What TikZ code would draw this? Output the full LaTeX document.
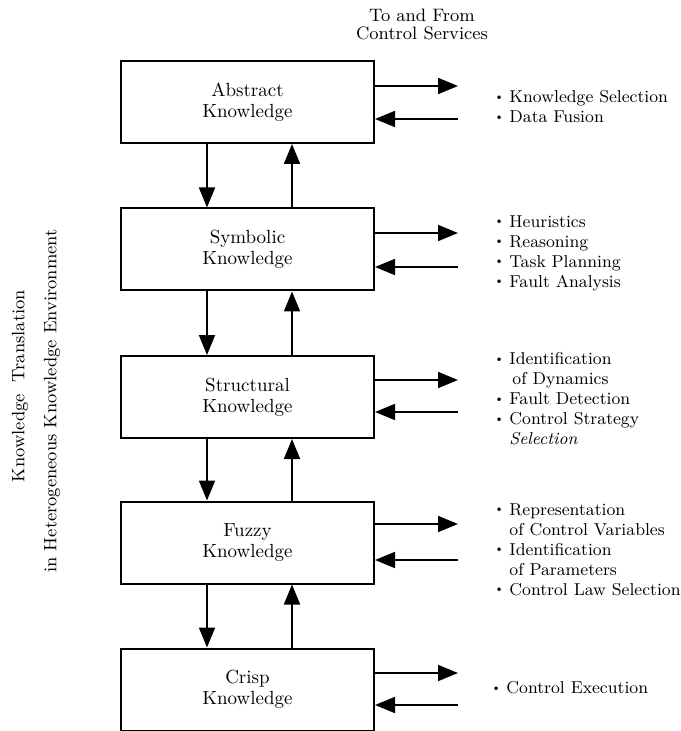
\documentclass[tikz,border=0pt]{standalone}
\usepackage{graphicx}
\usetikzlibrary{arrows.meta,calc}

% small bullet followed by a fixed gap before the item text
\newcommand{\dotmark}{\makebox[7.5pt][l]{\raisebox{0.3ex}{\scalebox{0.7}{\textbullet}}}}
\newcommand{\contind}{\hspace{7.5pt}}

\begin{document}
\begin{tikzpicture}[x=0.5pt,y=-0.5pt,
  kbox/.style={draw, line width=1pt, minimum width=126.5pt, minimum height=41pt,
    inner sep=0pt, align=center, font=\fontsize{9.5}{10.5}\selectfont},
  arr/.style={line width=0.9pt, -{Triangle[length=10pt,width=8pt]}},
  itemlist/.style={anchor=west, inner sep=0pt, align=left, font=\fontsize{8.6}{10}\selectfont},
  sidetext/.style={rotate=90, inner sep=0pt, font=\fontsize{9}{10}\selectfont},
]
\useasboundingbox (0,0) rectangle (680,731);

% knowledge levels
\node[kbox] (abs) at (247.5,102)   {Abstract\\Knowledge};
\node[kbox] (sym) at (247.5,249.5) {Symbolic\\Knowledge};
\node[kbox] (str) at (247.5,397)   {Structural\\Knowledge};
\node[kbox] (fuz) at (247.5,542.5) {Fuzzy\\Knowledge};
\node[kbox] (cri) at (247.5,689.5) {Crisp\\Knowledge};

% translation between adjacent levels
\foreach \a/\b in {abs/sym, sym/str, str/fuz, fuz/cri} {
  \draw[arr] ([xshift=43.5pt]\a.south west) -- ([xshift=43.5pt]\b.north west);
  \draw[arr] ([xshift=86pt]\b.north west) -- ([xshift=86pt]\a.south west);
}

% exchange with the control services
\foreach \n/\o/\i in {abs/86/119, sym/233/267, str/380/412, fuz/524/560, cri/673/705} {
  \coordinate (\n O) at (458,\o);
  \coordinate (\n I) at (458,\i);
  \draw[arr] (\n.east |- \n O) -- (\n O);
  \draw[arr] (\n I) -- (\n.east |- \n I);
}

\node[align=center, inner sep=0pt, font=\fontsize{9}{9}\selectfont] (head) at (422,24)
  {To and From\\Control Services};

% services at each level
\node[itemlist] (absL) at (494,107)
  {\dotmark Knowledge Selection\\\dotmark Data Fusion};
\node[itemlist] (symL) at (494,253)
  {\dotmark Heuristics\\\dotmark Reasoning\\\dotmark Task Planning\\\dotmark Fault Analysis};
\node[itemlist] (strL) at (494,399)
  {\dotmark Identification\\\contind\hspace{1.5pt}of Dynamics\\\dotmark Fault Detection\\\dotmark Control Strategy\\\contind\textit{Selection}};
\node[itemlist] (fuzL) at (494,549.5)
  {\dotmark Representation\\\contind of Control Variables\\\dotmark Identification\\\contind of Parameters\\\dotmark Control Law Selection};
\node[itemlist] (criL) at (491,688)
  {\dotmark Control Execution};

% vertical caption
\node[sidetext] (cap1) at (20,386) {Knowledge\hspace{6pt}Translation};
\node[sidetext] (cap2) at (52,401) {in Heterogeneous Knowledge Environment};
\end{tikzpicture}
\end{document}
